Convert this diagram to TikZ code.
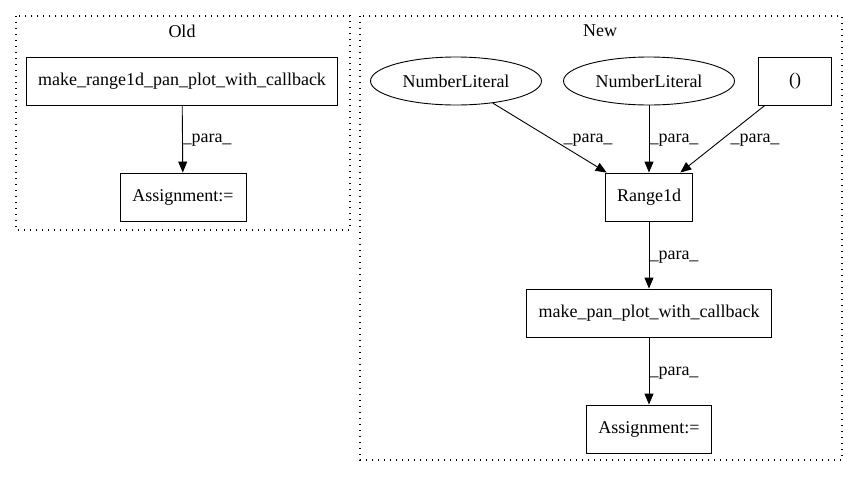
\documentclass[tikz,border=0pt]{standalone}
\usepackage{fontspec}
\setmainfont{Liberation Serif}
\usetikzlibrary{positioning, calc, shapes.geometric, arrows.meta}

\tikzset{
    opbox/.style={draw, rectangle, line width=0.9pt, inner sep=0pt, minimum height=48},
    litnode/.style={draw, ellipse, line width=0.9pt, inner sep=0pt, minimum width=171, minimum height=48},
    cluster/.style={draw, line width=1.3pt, dash pattern=on 1.3pt off 4.7pt},
    flow/.style={line width=0.9pt, -{Triangle[length=11pt, width=9pt]}},
    paralbl/.style={inner sep=0pt}
}

\begin{document}
\begin{tikzpicture}[x=1pt, y=-1pt, font=\fontsize{18}{21}\selectfont]
        \useasboundingbox (0,0) rectangle (857,480);

        % Old
        \draw [cluster] (16,16) rectangle (350,230);
        \node (oldtitle) at (182,31) {Old};
        \node (mkrange) [opbox, minimum width=311] at (182,81) {make\_range1d\_pan\_plot\_with\_callback};
        \node (oldassign) [opbox, minimum width=126] at (183,197) {Assignment:=};
        \draw [flow] (mkrange) -- (oldassign);
        \node (oldlbl) [paralbl] at (207,140) {\_para\_};

        % New
        \draw [cluster] (360,16) rectangle (842,460);
        \node (newtitle) at (600,31) {New};
        \node (numlit1) [litnode] at (456,81) {NumberLiteral};
        \node (numlit2) [litnode] at (649,81) {NumberLiteral};
        \node (tuple) [opbox, minimum width=73] at (795,81) {()};
        \node (range) [opbox, minimum width=87] at (649,197) {Range1d};
        \node (mkpan) [opbox, minimum width=245] at (649,313) {make\_pan\_plot\_with\_callback};
        \node (newassign) [opbox, minimum width=125] at (649,429) {Assignment:=};

        \draw [flow] (numlit1.-31) -- (range.150);
        \draw [flow] (numlit2) -- (range);
        \draw [flow] (tuple.-141) -- (range.38);
        \draw [flow] (range) -- (mkpan);
        \draw [flow] (mkpan) -- (newassign);

        \node (lbl1) [paralbl] at (588,140) {\_para\_};
        \node (lbl2) [paralbl] at (674,140) {\_para\_};
        \node (lbl3) [paralbl] at (755,140) {\_para\_};
        \node (lbl4) [paralbl] at (674,257) {\_para\_};
        \node (lbl5) [paralbl] at (674,373) {\_para\_};
    \end{tikzpicture}
\end{document}
